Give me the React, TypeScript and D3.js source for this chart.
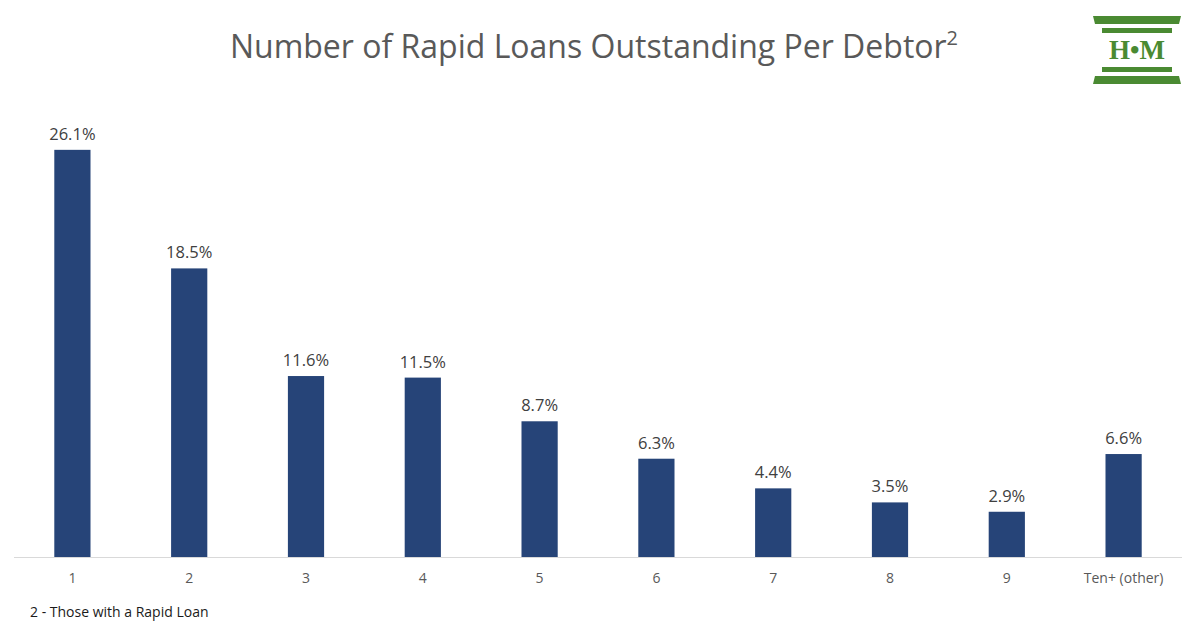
import React, { useEffect, useRef } from "react";
import * as d3 from "d3";

const categories = ["1", "2", "3", "4", "5", "6", "7", "8", "9", "Ten+ (other)"];
const shares = [26.1, 18.5, 11.6, 11.5, 8.7, 6.3, 4.4, 3.5, 2.9, 6.6];

const App = () => {
    const svgRef = useRef<SVGSVGElement>(null);

    useEffect(() => {
        const svg = d3.select(svgRef.current);
        svg.selectAll("*").remove();

        const width = 1200;
        const height = 625;
        const baseline = 557;

        svg.append("rect").attr("width", width).attr("height", height).attr("fill", "#fff");

        const x = d3.scaleBand().domain(categories).range([14, 1182]).paddingInner(0.69).paddingOuter(0.345);
        const y = d3.scaleLinear().domain([0, 30]).range([baseline, baseline - 468]);

        const data = categories.map((c, i) => ({ c, v: shares[i] }));

        // baseline
        svg.append("line")
            .attr("x1", 14)
            .attr("x2", 1182)
            .attr("y1", baseline + 0.5)
            .attr("y2", baseline + 0.5)
            .attr("stroke", "#d9d9d9")
            .attr("stroke-width", 1);

        // bars
        svg.append("g")
            .selectAll("rect")
            .data(data)
            .enter()
            .append("rect")
            .attr("x", (d) => x(d.c)!)
            .attr("y", (d) => y(d.v))
            .attr("width", x.bandwidth())
            .attr("height", (d) => baseline - y(d.v))
            .attr("fill", "#264478");

        // value labels
        svg.append("g")
            .selectAll("text")
            .data(data)
            .enter()
            .append("text")
            .attr("x", (d) => x(d.c)! + x.bandwidth() / 2)
            .attr("y", (d) => y(d.v) - 10)
            .attr("text-anchor", "middle")
            .attr("font-family", "'Open Sans', sans-serif")
            .attr("font-size", 16.5)
            .attr("fill", "#404040")
            .text((d) => d.v.toFixed(1) + "%");

        // x axis
        const ax = svg.append("g")
            .attr("transform", `translate(0,${baseline})`)
            .call(d3.axisBottom(x).tickSize(0).tickPadding(16));
        ax.select(".domain").remove();
        ax.selectAll("text")
            .attr("font-family", "'Open Sans', sans-serif")
            .attr("font-size", 14)
            .attr("fill", "#595959");

        // title
        const title = svg.append("text")
            .attr("x", 594)
            .attr("y", 58)
            .attr("text-anchor", "middle")
            .attr("font-family", "'Open Sans', sans-serif")
            .attr("font-size", 32)
            .attr("fill", "#595959");
        title.append("tspan").text("Number of Rapid Loans Outstanding Per Debtor");
        title.append("tspan").attr("dy", -13).attr("font-size", 20).text("2");

        // footnote
        svg.append("text")
            .attr("x", 30)
            .attr("y", 617)
            .attr("font-family", "'Open Sans', sans-serif")
            .attr("font-size", 14)
            .attr("fill", "#1a1a1a")
            .text("2 - Those with a Rapid Loan");

        // logo
        const green = "#4a8a32";
        const logo = svg.append("g");
        logo.append("path").attr("d", "M1093,16 L1181,16 L1179,24 L1095,24 Z").attr("fill", green);
        logo.append("rect").attr("x", 1102).attr("y", 28).attr("width", 70).attr("height", 5).attr("fill", green);
        logo.append("text")
            .attr("x", 1137)
            .attr("y", 59)
            .attr("text-anchor", "middle")
            .attr("font-family", "'Liberation Serif', serif")
            .attr("font-weight", "bold")
            .attr("font-size", 27)
            .attr("fill", green)
            .text("H•M");
        logo.append("rect").attr("x", 1102).attr("y", 67).attr("width", 70).attr("height", 5).attr("fill", green);
        logo.append("path").attr("d", "M1095,76 L1179,76 L1181,84 L1093,84 Z").attr("fill", green);
    }, []);

    return (
        <div style={{ position: "fixed", top: 0, left: 0, width: 1200, height: 625 }}>
            <svg ref={svgRef} width={1200} height={625} style={{ display: "block" }}></svg>
        </div>
    );
};

export default App;
